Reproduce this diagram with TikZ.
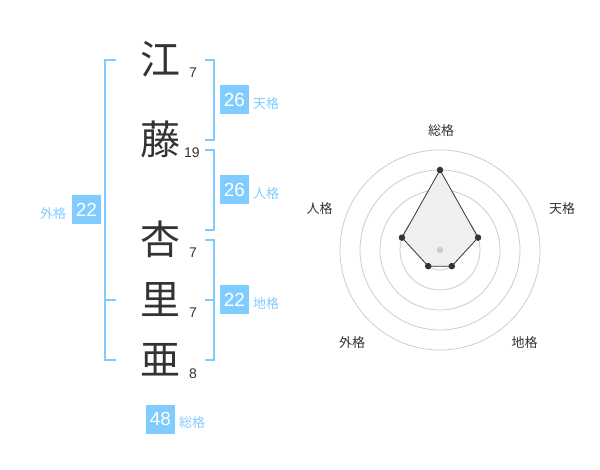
\documentclass[tikz,border=0pt]{standalone}
\usepackage{fontspec}
\setmainfont{Liberation Sans}
\newfontfamily\jp{Noto Sans CJK JP}
\definecolor{kblue}{RGB}{128,204,255}
\definecolor{kdark}{RGB}{51,51,51}
\definecolor{kring}{RGB}{204,204,204}
\definecolor{kfill}{RGB}{240,240,240}
\begin{document}
\begin{tikzpicture}[x=1pt,y=-1pt,
  kanji/.style={font=\jp\fontsize{40}{40}\selectfont,text=kdark,inner sep=0pt,text height=34pt,text depth=4.8pt},
  stroke/.style={font=\fontsize{14}{14}\selectfont,text=kdark,inner sep=0pt,text height=10pt,text depth=0pt},
  valbox/.style={fill=kblue,text=white,font=\fontsize{19}{19}\selectfont,minimum width=29pt,minimum height=29pt,inner sep=0pt,text height=13.6pt,text depth=0pt},
  gname/.style={font=\jp\fontsize{13}{13}\selectfont,text=kblue,inner sep=0pt},
  rlabel/.style={font=\jp\fontsize{13}{13}\selectfont,text=kdark,inner sep=0pt},
  brk/.style={draw=kblue,line width=2pt},
  ring/.style={draw=kring,line width=0.8pt},
  dot/.style={circle,fill=kdark,inner sep=0pt,minimum size=6.5pt},
  edge/.style={draw=kdark,line width=0.8pt}]
\useasboundingbox (0,0) rectangle (600,470);
% characters
\node[kanji] (c1) at (160,60) {江};
\node[kanji] (c2) at (160,140) {藤};
\node[kanji] (c3) at (160,240) {杏};
\node[kanji] (c4) at (160,300) {里};
\node[kanji] (c5) at (160,360) {亜};
\node[stroke] (n1) at (193,73) {7};
\node[stroke] (n2) at (192,153) {19};
\node[stroke] (n3) at (193,253) {7};
\node[stroke] (n4) at (193,313) {7};
\node[stroke] (n5) at (193,373) {8};
% brackets
\draw[brk] (116,60) -- (105,60) -- (105,360) -- (116,360);
\draw[brk] (105,300) -- (116,300);
\draw[brk] (205,60) -- (214,60) -- (214,140) -- (205,140);
\draw[brk] (205,150) -- (214,150) -- (214,230) -- (205,230);
\draw[brk] (205,240) -- (214,240) -- (214,360) -- (205,360);
\draw[brk] (205,300) -- (214,300);
% value boxes
\node[valbox] (b1) at (234.5,100) {26};
\node[gname] (g1) at (266,104) {天格};
\node[valbox] (b2) at (234.5,190) {26};
\node[gname] (g2) at (266,194) {人格};
\node[valbox] (b3) at (234.5,300) {22};
\node[gname] (g3) at (266,304) {地格};
\node[valbox] (b4) at (86.5,210) {22};
\node[gname] (g4) at (53,214) {外格};
\node[valbox] (b5) at (160.5,419) {48};
\node[gname] (g5) at (192,423) {総格};
% radar
\foreach \r in {20,40,60,80,100} \draw[ring] (440,250) circle (\r);
\node[rlabel] (l1) at (441,131) {総格};
\node[rlabel] (l2) at (562,209) {天格};
\node[rlabel] (l3) at (524.5,342.5) {地格};
\node[rlabel] (l4) at (352,342.5) {外格};
\node[rlabel] (l5) at (319.5,209) {人格};
\fill[kfill] (440,170) -- (478.04,237.64) -- (451.76,266.18) -- (428.24,266.18) -- (401.96,237.64) -- cycle;
\node[circle,fill=kring,inner sep=0pt,minimum size=6.5pt] (ctr) at (440,250) {};
\node[dot] (p1) at (440,170) {};
\node[dot] (p2) at (478.04,237.64) {};
\node[dot] (p3) at (451.76,266.18) {};
\node[dot] (p4) at (428.24,266.18) {};
\node[dot] (p5) at (401.96,237.64) {};
\draw[edge] (p1.center) -- (p2.center) -- (p3.center) -- (p4.center) -- (p5.center) -- (p1.center);
\end{tikzpicture}
\end{document}
